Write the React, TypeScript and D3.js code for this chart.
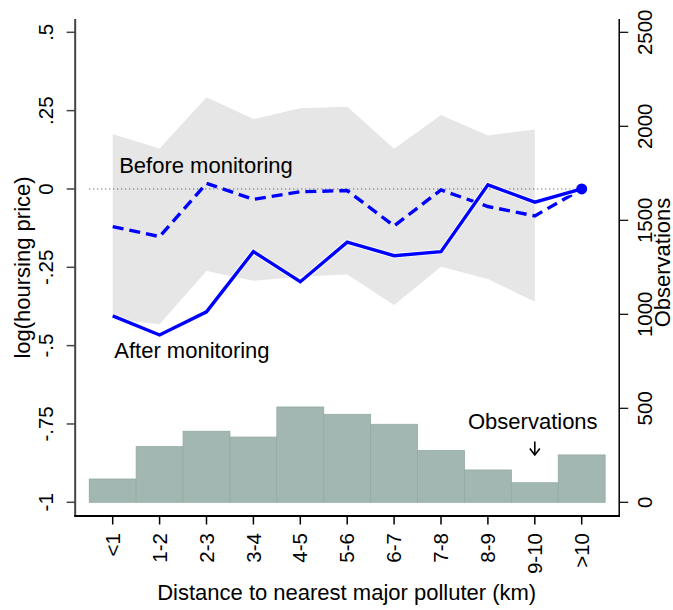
import React from "react";
import * as d3 from "d3";

const categories = ["<1", "1-2", "2-3", "3-4", "4-5", "5-6", "6-7", "7-8", "8-9", "9-10", ">10"];
const afterMonitoring = [-0.405, -0.466, -0.392, -0.2, -0.296, -0.17, -0.213, -0.2, 0.013, -0.042, 0];
const beforeMonitoring = [-0.12, -0.152, 0.018, -0.033, -0.009, -0.005, -0.118, -0.003, -0.056, -0.086, 0];
const ciUpper = [0.175, 0.129, 0.293, 0.223, 0.258, 0.262, 0.128, 0.236, 0.171, 0.19];
const ciLower = [-0.415, -0.432, -0.262, -0.293, -0.28, -0.273, -0.37, -0.248, -0.287, -0.36];
const observations = [124, 296, 378, 347, 507, 468, 415, 275, 172, 104, 252];
const leftTicks = [-1, -0.75, -0.5, -0.25, 0, 0.25, 0.5];
const leftTickLabels = ["-1", "-.75", "-.5", "-.25", "0", ".25", ".5"];
const rightTicks = [0, 500, 1000, 1500, 2000, 2500];

const FONT = "'Liberation Sans', Arial, sans-serif";

export default function App() {
  const W = 673, H = 610;
  const x = d3.scaleLinear().domain([1, 11]).range([112.7, 581.7]);
  const yL = d3.scaleLinear().domain([-1, 0.5]).range([502.3, 32.3]);
  const yR = d3.scaleLinear().domain([0, 2500]).range([502.3, 32.3]);
  const left = x(0.2), right = x(11.8);
  const top = 19, bottom = 516;

  const idx = categories.map((_, i) => i + 1);
  const area = d3
    .area<number>()
    .x((d) => x(d + 1))
    .y0((d) => yL(ciLower[d]))
    .y1((d) => yL(ciUpper[d]));
  const line = d3
    .line<number>()
    .x((d, i) => x(i + 1))
    .y((d) => yL(d));

  return (
    <svg width={W} height={H} style={{ position: "absolute", left: 0, top: 0, fontFamily: FONT }}>
      <rect x={0} y={0} width={W} height={H} fill="#fff" />
      {/* bars */}
      {observations.map((v, i) => (
        <rect
          key={i}
          x={x(i + 0.5)}
          y={yR(v)}
          width={x(i + 1.5) - x(i + 0.5)}
          height={yR(0) - yR(v)}
          fill="#a2b7b1"
          stroke="#93aaa3"
          strokeWidth={0.8}
        />
      ))}
      {/* CI band */}
      <path d={area(d3.range(ciUpper.length)) || ""} fill="#e6e6e6" />
      {/* zero dotted line */}
      <line
        x1={x(0.5)}
        x2={x(11)}
        y1={yL(0)}
        y2={yL(0)}
        stroke="#444"
        strokeWidth={1}
        strokeDasharray="1,3"
      />
      {/* before (dashed) */}
      <path d={line(beforeMonitoring) || ""} fill="none" stroke="#0000ff" strokeWidth={3.4} strokeDasharray="11,6" />
      {/* after (solid) with white halo */}
      <path d={line(afterMonitoring) || ""} fill="none" stroke="#fff" strokeWidth={5.2} strokeLinejoin="miter" />
      <path d={line(afterMonitoring) || ""} fill="none" stroke="#0000ff" strokeWidth={3.4} strokeLinejoin="miter" />
      <circle cx={x(11)} cy={yL(afterMonitoring[10])} r={5.5} fill="#0000ff" />

      {/* annotations */}
      <text x={x(1) + 6.5} y={173.3} fontSize={22} fill="#000">Before monitoring</text>
      <text x={x(1) + 1.6} y={358.3} fontSize={22} fill="#000">After monitoring</text>
      <text x={x(10) - 2} y={429.3} fontSize={22} textAnchor="middle" fill="#000">Observations</text>
      <line x1={x(10)} x2={x(10)} y1={441.5} y2={455} stroke="#000" strokeWidth={1.6} />
      <path d={`M${x(10) - 5},${448.5} L${x(10)},${455} L${x(10) + 5},${448.5}`} fill="none" stroke="#000" strokeWidth={1.6} />

      {/* left axis */}
      <line x1={left} x2={left} y1={top} y2={bottom} stroke="#444" strokeWidth={2} />
      {leftTicks.map((t, i) => (
        <g key={i}>
          <line x1={left - 8.5} x2={left} y1={yL(t)} y2={yL(t)} stroke="#444" strokeWidth={1.5} />
          <text transform={`translate(53,${yL(t)}) rotate(-90)`} textAnchor="middle" fontSize={20.5} fill="#000">
            {leftTickLabels[i]}
          </text>
        </g>
      ))}
      <text transform={`translate(30,${(top + bottom) / 2}) rotate(-90)`} textAnchor="middle" fontSize={22} fill="#000">
        log(hoursing price)
      </text>

      {/* right axis */}
      <line x1={right} x2={right} y1={top} y2={bottom} stroke="#000" strokeWidth={1.5} />
      {rightTicks.map((t, i) => (
        <g key={i}>
          <line x1={right} x2={right + 9} y1={yR(t)} y2={yR(t)} stroke="#000" strokeWidth={1.2} />
          <text transform={`translate(651.7,${yR(t)}) rotate(-90)`} textAnchor="middle" fontSize={20.5} fill="#000">
            {String(t)}
          </text>
        </g>
      ))}
      <text transform={`translate(669.5,${(top + bottom) / 2 - 5}) rotate(-90)`} textAnchor="middle" fontSize={22} fill="#000">
        Observations
      </text>

      {/* bottom axis */}
      <line x1={left - 1} x2={right + 0.75} y1={bottom} y2={bottom} stroke="#000" strokeWidth={2} />
      {idx.map((d, i) => (
        <g key={i}>
          <line x1={x(d)} x2={x(d)} y1={bottom} y2={bottom + 8.5} stroke="#000" strokeWidth={1.5} />
          <text
            transform={`translate(${x(d)},${533}) rotate(-90)`}
            textAnchor="end"
            dy="0.35em"
            fontSize={20.5}
            fill="#000"
          >
            {categories[i]}
          </text>
        </g>
      ))}
      <text x={(left + right) / 2 - 0.5} y={600} textAnchor="middle" fontSize={22} fill="#000">
        Distance to nearest major polluter (km)
      </text>
    </svg>
  );
}
